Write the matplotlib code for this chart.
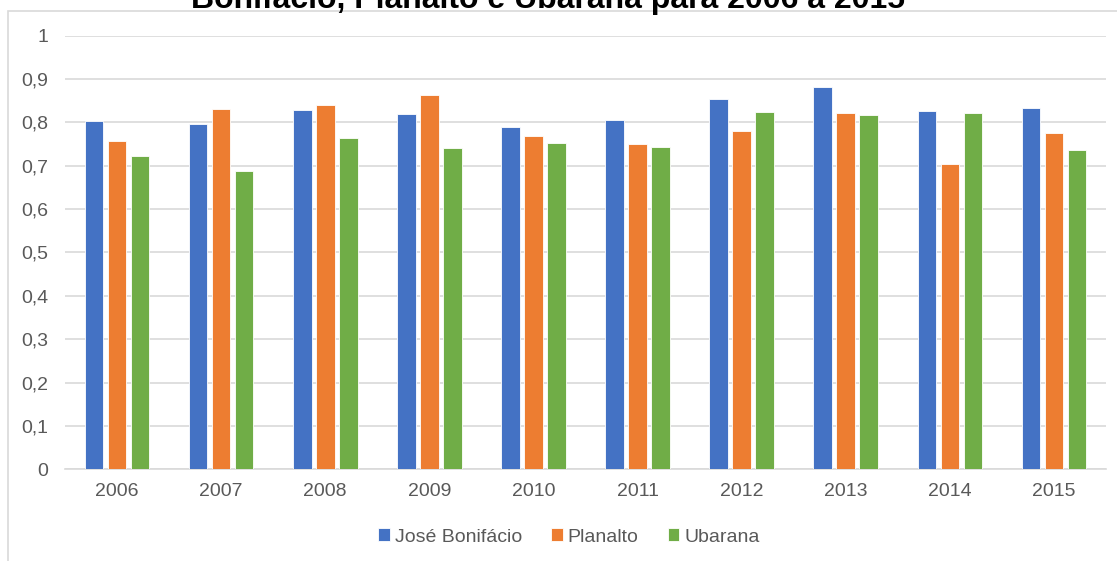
import numpy as np
import matplotlib.pyplot as plt
from matplotlib.patches import Rectangle

plt.rcParams['font.family'] = ['Liberation Sans', 'DejaVu Sans']

# valores
anos = ['2006', '2007', '2008', '2009', '2010', '2011', '2012', '2013', '2014', '2015']
jose_bonifacio = [0.803, 0.795, 0.828, 0.820, 0.788, 0.806, 0.854, 0.882, 0.826, 0.832]
planalto = [0.756, 0.831, 0.840, 0.862, 0.768, 0.750, 0.780, 0.822, 0.703, 0.776]
ubarana = [0.723, 0.687, 0.763, 0.741, 0.752, 0.744, 0.823, 0.817, 0.822, 0.735]

series = [('José Bonifácio', jose_bonifacio, '#4472C4'),
          ('Planalto', planalto, '#ED7D31'),
          ('Ubarana', ubarana, '#70AD47')]

W, H = 1117, 561
fig = plt.figure(figsize=(W / 100, H / 100), dpi=100)
ax = fig.add_axes([65 / W, 1 - 469.3 / H, (1106 - 65) / W, (469.3 - 35.5) / H])

# moldura do gráfico (corta na direita e embaixo)
fig.patches.append(Rectangle((7.5 / W, -0.1), 1.2, 1 - 10.5 / H + 0.1,
                             transform=fig.transFigure, fill=False,
                             edgecolor='#d9d9d9', linewidth=1.2))

x = np.arange(len(anos))
step = 0.221
width = 0.178
for i, (nome, vals, cor) in enumerate(series):
    ax.bar(x + (i - 1) * step, vals, width, color=cor, label=nome,
           edgecolor='white', linewidth=0.6, zorder=3)

ax.set_xlim(-0.5, len(anos) - 0.5)
ax.set_ylim(0, 1)
ax.set_yticks(np.arange(0, 1.01, 0.1))
ax.set_yticklabels(['0'] + [f'{v:.1f}'.replace('.', ',') for v in np.arange(0.1, 0.95, 0.1)] + ['1'])
ax.set_xticks(x)
ax.set_xticklabels(anos)
ax.tick_params(axis='both', length=0, labelsize=14, labelcolor='#595959')
ax.tick_params(axis='y', pad=12)
ax.tick_params(axis='x', pad=10)
ax.grid(axis='y', color='#d9d9d9', linewidth=1.2, zorder=0)
for s in ['top', 'right', 'left']:
    ax.spines[s].set_visible(False)
ax.spines['bottom'].set_color('#d9d9d9')
ax.spines['bottom'].set_linewidth(1.2)

fig.legend(loc='center', bbox_to_anchor=(569 / W, 1 - 537 / H), ncol=3,
           frameon=False, fontsize=14, labelcolor='#595959',
           handlelength=0.6, handleheight=0.6, handletextpad=0.25, columnspacing=1.5)

# título cortado no topo
fig.text(548 / W, 1 - 8 / H, 'Bonifácio, Planalto e Ubarana para 2006 a 2015',
         ha='center', va='baseline', fontsize=23, fontweight='bold', color='black')

fig.savefig('out.png', dpi=100)
